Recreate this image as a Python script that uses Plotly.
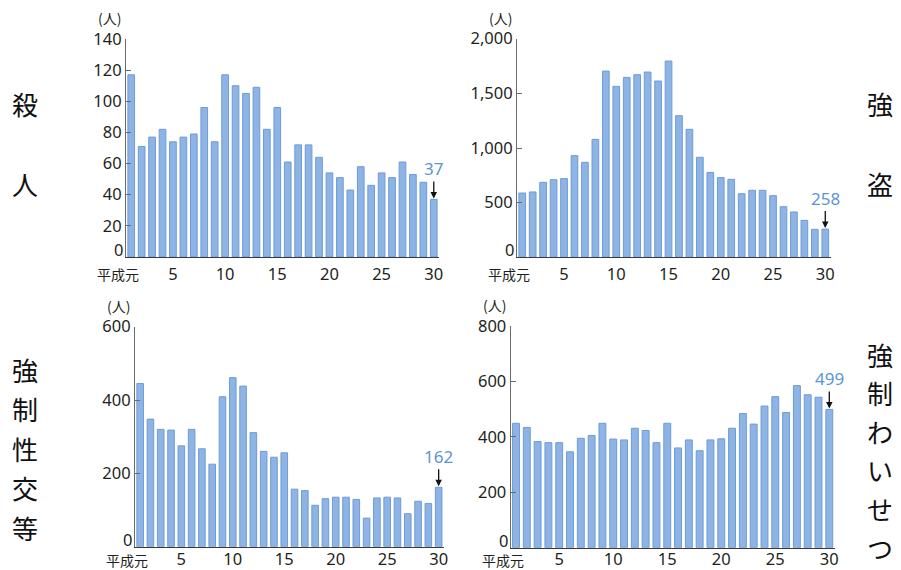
import plotly.graph_objects as go

W, H = 901, 570

years = list(range(1, 31))  # 平成元年〜30年
x_tick_vals = [5, 10, 15, 20, 25, 30]
x_tick_text = ["5", "10", "15", "20", "25", "30"]
first_year_label = "平成元"
unit_label = "(人)"

murder = [117, 71, 77, 82, 74, 77, 79, 96, 74, 117,
          110, 105, 109, 82, 96, 61, 72, 72, 64, 54,
          51, 43, 58, 46, 54, 51, 61, 53, 48, 37]
robbery = [588, 598, 686, 710, 720, 930, 869, 1079, 1704, 1564,
           1646, 1671, 1695, 1613, 1796, 1296, 1171, 915, 777, 729,
           713, 582, 613, 613, 564, 463, 415, 338, 256, 258]
rape = [445, 348, 320, 318, 275, 320, 267, 225, 409, 461,
        438, 311, 260, 244, 256, 157, 153, 113, 131, 135,
        135, 129, 78, 133, 135, 133, 90, 124, 118, 162]
indecency = [449, 434, 383, 379, 379, 346, 395, 405, 449, 392,
             389, 431, 423, 379, 449, 360, 389, 350, 389, 393,
             431, 484, 446, 511, 545, 488, 585, 552, 543, 499]

murder_ticks = [0, 20, 40, 60, 80, 100, 120, 140]
robbery_ticks = [0, 500, 1000, 1500, 2000]
robbery_ticktext = ["0", "500", "1,000", "1,500", "2,000"]
rape_ticks = [0, 200, 400, 600]
indecency_ticks = [0, 200, 400, 600, 800]

titles = ["殺人", "強盗", "強制性交等", "強制わいせつ"]

BAR_FILL = "#8db4e4"
BAR_EDGE = "#6f9bd5"
VALUE_BLUE = "#5b95d6"
TEXT = "#231f20"
AXIS = "#6b6b6b"
TICK_FONT = dict(family="Noto Sans, Open Sans, sans-serif", size=16.5, color=TEXT)
CJK = "Noto Sans CJK JP, sans-serif"


def px_dom_x(a, b):
    return [a / W, b / W]


def px_dom_y(top, bottom):
    return [1 - bottom / H, 1 - top / H]


panels = [
    dict(vals=murder, ticks=murder_ticks, ticktext=[str(t) for t in murder_ticks],
         xd=px_dom_x(126, 439), yd=px_dom_y(39, 257), stand=2, gen_shift=-17),
    dict(vals=robbery, ticks=robbery_ticks, ticktext=robbery_ticktext,
         xd=px_dom_x(517, 830.5), yd=px_dom_y(38.7, 257.3), stand=2, gen_shift=-17),
    dict(vals=rape, ticks=rape_ticks, ticktext=[str(t) for t in rape_ticks],
         xd=px_dom_x(135, 443.8), yd=px_dom_y(326.7, 546.7), stand=-3, gen_shift=-13),
    dict(vals=indecency, ticks=indecency_ticks, ticktext=[str(t) for t in indecency_ticks],
         xd=px_dom_x(510.6, 834.7), yd=px_dom_y(326, 547.7), stand=-4, gen_shift=-12),
]

fig = go.Figure()
layout = dict(
    width=W, height=H,
    margin=dict(l=0, r=0, t=0, b=0, autoexpand=False),
    paper_bgcolor="white", plot_bgcolor="white",
    showlegend=False, bargap=0.36,
    annotations=[],
)

for i, p in enumerate(panels, start=1):
    xa = "x" if i == 1 else f"x{i}"
    ya = "y" if i == 1 else f"y{i}"
    fig.add_trace(go.Bar(
        x=years, y=p["vals"], xaxis=xa, yaxis=ya,
        marker=dict(color=BAR_FILL, line=dict(color=BAR_EDGE, width=1)),
        hoverinfo="x+y",
    ))
    xkey = "xaxis" if i == 1 else f"xaxis{i}"
    ykey = "yaxis" if i == 1 else f"yaxis{i}"
    layout[xkey] = dict(
        domain=p["xd"], anchor=ya, range=[0.5, 30.5], automargin=False,
        tickmode="array", tickvals=x_tick_vals, ticktext=x_tick_text,
        ticks="", ticklabelstandoff=p["stand"],
        showgrid=False, zeroline=False,
        showline=True, linecolor="#3a3a3a", linewidth=1.2,
        tickfont=TICK_FONT, fixedrange=True,
    )
    # the zero label sits above the baseline, so it is drawn separately
    ytext = [""] + p["ticktext"][1:]
    layout[ykey] = dict(
        domain=p["yd"], anchor=xa, range=[0, p["ticks"][-1]], automargin=False,
        tickmode="array", tickvals=p["ticks"], ticktext=ytext,
        ticks="inside", ticklen=5, tickcolor=AXIS, tickwidth=1,
        showgrid=False, zeroline=False,
        showline=True, linecolor=AXIS, linewidth=1,
        tickfont=TICK_FONT, fixedrange=True,
    )
    layout["annotations"].append(dict(
        x=0, y=p["ticks"][0], xref=f"{xa} domain", yref=ya, text=p["ticktext"][0],
        showarrow=False, xanchor="right", yanchor="bottom", xshift=-2, yshift=-5,
        borderpad=0, font=TICK_FONT,
    ))
    # 年の起点ラベル
    layout["annotations"].append(dict(
        x=1, y=0, xref=xa, yref=f"{ya} domain", text=first_year_label,
        showarrow=False, xanchor="center", yanchor="middle", xshift=-13,
        yshift=p["gen_shift"], borderpad=0,
        font=dict(family=CJK, size=14, color=TEXT),
    ))
    # 単位
    layout["annotations"].append(dict(
        x=0, y=1, xref=f"{xa} domain", yref=f"{ya} domain", text=unit_label,
        showarrow=False, xanchor="right", yanchor="bottom", xshift=-3, yshift=9,
        font=dict(family=CJK, size=14, color=TEXT),
    ))
    # 最新年の値
    layout["annotations"].append(dict(
        x=years[-1], y=p["vals"][-1], xref=xa, yref=ya,
        text=f"{p['vals'][-1]}", showarrow=True,
        ax=0, ay=-31, arrowhead=2, arrowsize=1, arrowwidth=1.3,
        arrowcolor="#111111", standoff=1,
        font=dict(family="Noto Sans, sans-serif", size=17, color=VALUE_BLUE),
    ))

# 罪種名(縦書き)
side = [
    (titles[0], 25, 103, 80),
    (titles[1], 880, 103, 80),
    (titles[2], 25, 369, 39.5),
    (titles[3], 880, 354, 38.6),
]
for text, cx, cy0, step in side:
    for k, ch in enumerate(text):
        layout["annotations"].append(dict(
            x=cx / W, y=1 - (cy0 + k * step) / H, xref="paper", yref="paper",
            text=ch, showarrow=False, xanchor="center", yanchor="middle",
            font=dict(family=CJK, size=26, color="#111111"),
        ))

fig.update_layout(**layout)
fig.write_html("out.html")
